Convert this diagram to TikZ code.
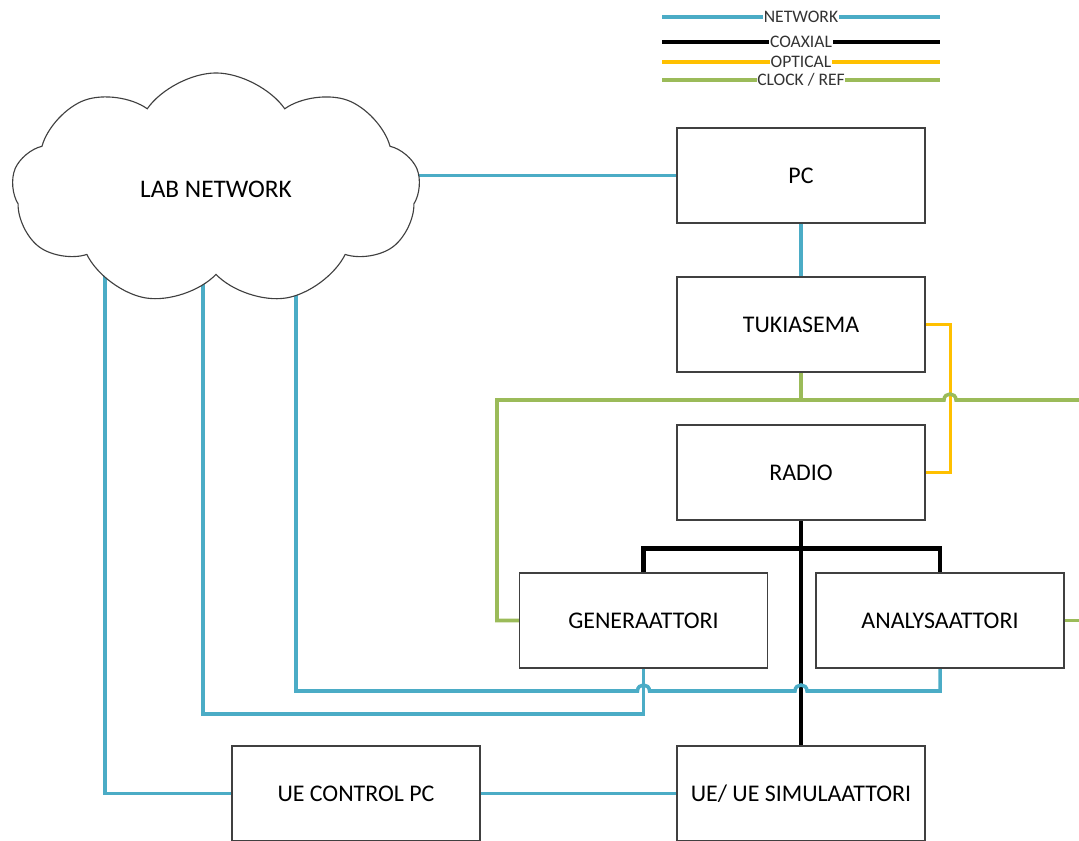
\documentclass[tikz,border=0pt]{standalone}
\usepackage{fontspec}
\setmainfont{Carlito}
\usetikzlibrary{shapes.symbols, backgrounds}

\definecolor{netblue}{HTML}{4BACC6}
\definecolor{optorange}{HTML}{FFC000}
\definecolor{clkgreen}{HTML}{9BBB59}
\definecolor{boxgray}{HTML}{404040}

\begin{document}
\begin{tikzpicture}[
        x=0.025cm, y=-0.025cm,
        device/.style={
            rectangle,
            draw=boxgray,
            line width=0.8pt,
            fill=white,
            minimum width=6.2cm,
            minimum height=2.375cm,
            font=\fontsize{17}{19}\selectfont
        },
        net/.style={draw=netblue, line width=2.5pt},
        coax/.style={draw=black, line width=3.2pt},
        optic/.style={draw=optorange, line width=2.5pt},
        clk/.style={draw=clkgreen, line width=2.5pt},
        legtxt/.style={fill=white, inner sep=0.5pt, text=black!80,
            font=\fontsize{12.5}{12.5}\selectfont}
    ]
    \useasboundingbox (0,0) rectangle (1079,841);

    % Legend
    \draw[net] (662,17) -- node[legtxt] (lnet) {NETWORK} (940,17);
    \draw[coax] (662,42) -- node[legtxt] (lcoax) {COAXIAL} (940,42);
    \draw[optic] (662,62) -- node[legtxt] (lopt) {OPTICAL} (940,62);
    \draw[clk] (662,80) -- node[legtxt] (lclk) {CLOCK / REF} (940,80);

    % Nodes
    \node[cloud, draw=boxgray, fill=white, line width=0.8pt,
        cloud puffs=9, cloud puff arc=110, aspect=1.8,
        minimum width=10.2cm, minimum height=5.8cm,
        font=\fontsize{18}{20}\selectfont] (lab) at (216,189) {LAB NETWORK};
    \node[device] (pc) at (801,175.5) {PC};
    \node[device] (tuki) at (801,324.5) {TUKIASEMA};
    \node[device] (radio) at (801,472.5) {RADIO};
    \node[device] (gen) at (643.5,620.5) {GENERAATTORI};
    \node[device] (ana) at (940,620.5) {ANALYSAATTORI};
    \node[device] (uepc) at (356,793.5) {UE CONTROL PC};
    \node[device] (uesim) at (801,793.5) {UE/ UE SIMULAATTORI};

    \coordinate (tapA) at (105,190);
    \coordinate (tapB) at (203,190);
    \coordinate (tapC) at (296,190);
    \coordinate (clkL) at (497,400);
    \coordinate (clkR) at (1079,400);

    \begin{scope}[on background layer]
        % Coaxial
        \draw[coax] (radio.south) -- (uesim.north);
        \draw[coax] (gen.north) -- ++(0,-24) -| (ana.north);

        % Optical
        \draw[optic] (tuki.east) -- ++(25,0) |- (radio.east);

        % Clock / ref
        \draw[clk] (gen.west) -| (clkL) -- (944,400)
            .. controls +(0,-8) and +(0,-8) .. (956,400) -- (clkR);
        \draw[clk] (tuki.south) -- (tuki.south |- clkL);
        \draw[clk] (ana.east) -- (ana.east -| clkR);

        % Network
        \draw[net] (lab.center |- pc.west) -- (pc.west);
        \draw[net] (pc.south) -- (tuki.north);
        \draw[net] (tapA) |- (uepc.west);
        \draw[net] (uepc.east) -- (uesim.west);
        \draw[net] (tapB) |- (gen.south |- 0,714) -- (gen.south);
        \draw[net] (tapC) |- (637.5,691)
            .. controls +(0,-8) and +(0,-8) .. (649.5,691) -- (795,691)
            .. controls +(0,-8) and +(0,-8) .. (807,691) -| (ana.south);
    \end{scope}

\end{tikzpicture}
\end{document}
